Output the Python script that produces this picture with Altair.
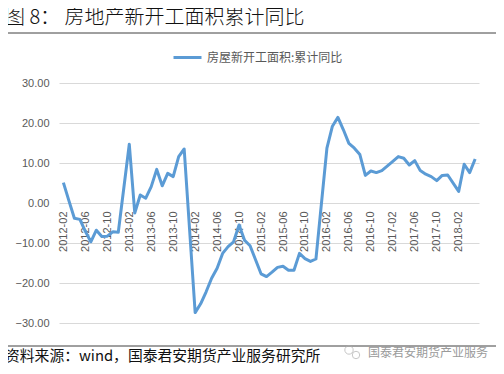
import altair as alt
import pandas as pd

# ---- data -------------------------------------------------------------
series_name = "房屋新开工面积:累计同比"
title_text = "图 8： 房地产新开工面积累计同比"
footer_text = "资料来源：wind，国泰君安期货产业服务研究所"
watermark_text = "国泰君安期货产业服务"

months = [f"{y}-{m:02d}" for y in range(2012, 2018) for m in range(2, 13)] + \
         ["2018-02", "2018-03", "2018-04", "2018-05"]

v2012 = [5.1, 0.6, -3.8, -4.1, -7.1, -9.7, -6.8, -8.4, -8.3, -7.2, -7.3]
v2013 = [14.7, -2.5, 2.0, 1.2, 4.1, 8.4, 4.3, 7.4, 6.6, 11.6, 13.5]
v2014 = [-27.4, -25.2, -22.2, -18.8, -16.3, -12.6, -10.9, -9.7, -5.5, -9.3, -10.7]
v2015 = [-17.7, -18.4, -17.3, -16.1, -15.8, -16.8, -16.8, -12.6, -13.9, -14.6, -14.0]
v2016 = [13.7, 19.2, 21.4, 18.3, 14.9, 13.7, 12.1, 6.9, 8.0, 7.6, 8.1]
v2017 = [10.4, 11.6, 11.2, 9.5, 10.6, 8.1, 7.2, 6.6, 5.6, 6.9, 7.0]
v2018 = [2.9, 9.7, 7.6, 11.0]
values = v2012 + v2013 + v2014 + v2015 + v2016 + v2017 + v2018

tick_labels = ["2012-02", "2012-06", "2012-10", "2013-02", "2013-06", "2013-10",
               "2014-02", "2014-06", "2014-10", "2015-02", "2015-06", "2015-10",
               "2016-02", "2016-06", "2016-10", "2017-02", "2017-06", "2017-10",
               "2018-02"]
y_ticks = [-30, -20, -10, 0, 10, 20, 30]


def month_index(s):
    y, m = s.split("-")
    return (int(y) - 2012) * 12 + int(m) - 2


df = pd.DataFrame({
    "idx": [month_index(s) for s in months],
    "month": months,
    "value": values,
    "series": series_name,
})

tick_idx = [month_index(s) for s in tick_labels]
label_arr = "[" + ",".join(f"'{s}'" for s in tick_labels) + "]"
label_expr = f"{label_arr}[round(datum.value / 4)]"

# ---- chart ------------------------------------------------------------
axis_font = "Liberation Sans"
cjk_font = "Noto Sans CJK SC"

line = alt.Chart(df).mark_line(strokeWidth=3, strokeJoin="round", strokeCap="butt").encode(
    x=alt.X("idx:Q",
            scale=alt.Scale(domain=[-0.8, 75.7], nice=False, zero=False),
            axis=alt.Axis(values=tick_idx, labelExpr=label_expr, labelAngle=270,
                          offset=-120, grid=False, ticks=False, domain=False,
                          labelFont=axis_font, labelFontSize=11, labelColor="#595959",
                          labelPadding=8, labelFlush=False, labelOverlap=False,
                          title=None)),
    y=alt.Y("value:Q",
            scale=alt.Scale(domain=[-30, 30], nice=False),
            axis=alt.Axis(values=y_ticks, format=".2f", grid=True, gridColor="#d9d9d9",
                          gridWidth=1, ticks=False, domain=False, labelPadding=10,
                          labelFont=axis_font, labelFontSize=11, labelColor="#595959",
                          title=None)),
    color=alt.Color("series:N",
                    scale=alt.Scale(domain=[series_name], range=["#5B9BD5"]),
                    legend=alt.Legend(orient="none", legendX=113, legendY=-41, title=None,
                                      symbolType="stroke", symbolStrokeWidth=3,
                                      symbolSize=784, labelFont=cjk_font,
                                      labelFontSize=12, labelColor="#595959",
                                      labelOffset=4)),
)

one = pd.DataFrame({"t": [0]})

title_t = alt.Chart(pd.DataFrame({"t": [title_text]})).mark_text(
    align="left", baseline="middle", font=cjk_font, fontSize=20, fontWeight=300,
    color="#111111"
).encode(x=alt.value(-54), y=alt.value(-64.6), text="t:N")

top_rule = alt.Chart(one).mark_rule(color="#404040", strokeWidth=1).encode(
    x=alt.value(-56), x2=alt.value(441), y=alt.value(-50))

bottom_rule = alt.Chart(one).mark_rule(color="#404040", strokeWidth=1).encode(
    x=alt.value(-56), x2=alt.value(441), y=alt.value(263))

footer_t = alt.Chart(pd.DataFrame({"t": [footer_text]})).mark_text(
    align="left", baseline="middle", font=cjk_font, fontSize=14.8, color="#111111"
).encode(x=alt.value(-54), y=alt.value(274.3), text="t:N")

watermark_t = alt.Chart(pd.DataFrame({"t": [watermark_text]})).mark_text(
    align="left", baseline="middle", font=cjk_font, fontSize=12, color="#9a9a9a"
).encode(x=alt.value(309), y=alt.value(269.5), text="t:N")

icon_a = alt.Chart(one).mark_point(shape="circle", filled=False, color="#b0b0b0",
                                   size=70, strokeWidth=1).encode(
    x=alt.value(290), y=alt.value(267))
icon_b = alt.Chart(one).mark_point(shape="circle", filled=False, color="#b0b0b0",
                                   size=55, strokeWidth=1).encode(
    x=alt.value(297), y=alt.value(272))

chart = alt.layer(line, title_t, top_rule, bottom_rule, footer_t, watermark_t,
                  icon_a, icon_b).properties(
    width=420, height=240,
    autosize=alt.AutoSizeParams(type="none"),
    padding={"left": 51, "top": 75, "right": 17, "bottom": 43},
    background="white",
).configure_view(stroke=None)

chart.save("out.html", embed_options={"renderer": "svg", "actions": False})
